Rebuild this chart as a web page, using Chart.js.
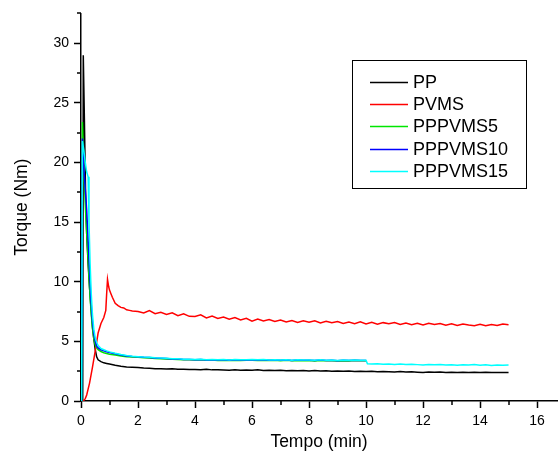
<!DOCTYPE html>
<html>
<head>
<meta charset="utf-8">
<script src="https://cdn.jsdelivr.net/npm/chart.js@4"></script>
<style>
  html, body { margin: 0; padding: 0; background: #fff; }
  #wrap { width: 558px; height: 457px; }
</style>
</head>
<body>
<div id="wrap"><canvas id="c" width="558" height="457"></canvas></div>
<script>
// ---------- DATA ----------
const seriesLabels = ["PP", "PVMS", "PPPVMS5", "PPPVMS10", "PPPVMS15"];

// shared tail time grid (min)
const tailTime = [
  2.0,2.2,2.4,2.6,2.8, 3.0,3.2,3.4,3.6,3.8, 4.0,4.2,4.4,4.6,4.8,
  5.0,5.2,5.4,5.6,5.8, 6.0,6.2,6.4,6.6,6.8, 7.0,7.2,7.4,7.6,7.8,
  8.0,8.2,8.4,8.6,8.8, 9.0,9.2,9.4,9.6,9.8, 10.0,10.2,10.4,10.6,10.8,
  11.0,11.2,11.4,11.6,11.8, 12.0,12.2,12.4,12.6,12.8, 13.0,13.2,13.4,13.6,13.8,
  14.0,14.2,14.4,14.6,14.8, 15.0
];

// PP
const ppHeadTime = [0.06,0.08,0.12,0.16,0.2,0.25,0.3,0.35,0.4,0.45,0.5,0.55,0.6,0.7,0.8,0.9,1.0,1.2,1.4,1.6,1.8];
const ppHeadTorque = [0,29.0,23.5,17.5,14.0,11.5,9.5,7.8,6.3,5.2,4.3,3.7,3.45,3.3,3.2,3.15,3.1,3.0,2.92,2.86,2.83];
const ppTailTorque = [
  2.80,2.76,2.74,2.71,2.70, 2.68,2.70,2.66,2.67,2.64, 2.65,2.62,2.66,2.61,2.63,
  2.60,2.58,2.62,2.57,2.60, 2.58,2.61,2.56,2.58,2.55, 2.57,2.54,2.56,2.53,2.55,
  2.52,2.55,2.51,2.53,2.50, 2.52,2.49,2.51,2.48,2.50, 2.47,2.49,2.45,2.48,2.46,
  2.44,2.47,2.43,2.45,2.42, 2.40,2.44,2.41,2.43,2.40, 2.42,2.39,2.41,2.38,2.41,
  2.39,2.42,2.38,2.40,2.39, 2.40
];

// PVMS
const pvmsHeadTime = [0.08,0.15,0.2,0.3,0.4,0.5,0.6,0.7,0.8,0.87,0.9,0.93,0.97,1.0,1.05,1.1,1.2,1.3,1.4,1.5,1.6,1.7,1.8];
const pvmsHeadTorque = [0,0.2,0.5,1.5,2.8,4.2,5.7,6.5,7.0,7.6,9.0,10.2,9.6,9.3,9.0,8.7,8.2,8.0,7.85,7.8,7.65,7.6,7.55];
const pvmsTailTorque = [
  7.50,7.38,7.58,7.32,7.44, 7.26,7.40,7.16,7.32,7.10, 7.08,7.22,6.96,7.12,6.92,
  7.04,6.86,6.99,6.80,6.94, 6.70,6.88,6.72,6.83,6.66, 6.79,6.62,6.74,6.58,6.72,
  6.60,6.73,6.54,6.68,6.56, 6.66,6.50,6.62,6.48,6.64, 6.46,6.60,6.43,6.57,6.48,
  6.58,6.42,6.54,6.40,6.52, 6.38,6.52,6.41,6.50,6.36, 6.48,6.34,6.46,6.38,6.32,
  6.44,6.31,6.42,6.33,6.46, 6.40
];

// PPPVMS5 (ends at 10 min)
const pp5HeadTime = [0.02,0.05,0.1,0.15,0.2,0.25,0.3,0.35,0.4,0.45,0.5,0.55,0.6,0.7,0.8,0.9,1.0,1.2,1.4,1.6,1.8];
const pp5HeadTorque = [0,23.4,19.5,16.5,14.0,11.8,9.5,7.6,6.1,5.2,4.7,4.45,4.3,4.15,4.05,3.98,3.92,3.85,3.78,3.72,3.69];
const pp5TailTorque = [
  3.66,3.63,3.60,3.57,3.55, 3.53,3.50,3.49,3.46,3.45, 3.43,3.45,3.41,3.43,3.40,
  3.42,3.39,3.42,3.40,3.41, 3.42,3.40,3.42,3.39,3.41, 3.38,3.41,3.37,3.40,3.38,
  3.39,3.36,3.40,3.37,3.38, 3.35,3.38,3.36,3.39,3.37, 3.37
];

// PPPVMS10 (ends at 10 min)
const pp10HeadTime = [0.02,0.05,0.1,0.15,0.2,0.25,0.3,0.35,0.4,0.45,0.5,0.55,0.6,0.7,0.8,0.9,1.0,1.2,1.4,1.6,1.8];
const pp10HeadTorque = [0,22.0,19.5,17.8,16.0,13.5,10.8,8.4,6.7,5.6,5.0,4.6,4.45,4.3,4.2,4.12,4.06,3.96,3.86,3.78,3.73];
const pp10TailTorque = [
  3.70,3.66,3.64,3.60,3.58, 3.56,3.53,3.52,3.49,3.48, 3.46,3.48,3.44,3.46,3.43,
  3.45,3.42,3.46,3.43,3.44, 3.46,3.43,3.45,3.42,3.44, 3.41,3.44,3.40,3.43,3.41,
  3.42,3.39,3.43,3.40,3.41, 3.38,3.41,3.39,3.42,3.40, 3.40
];

// PPPVMS15 (step down just after 10 min)
const pp15HeadTime = [0.02,0.05,0.1,0.15,0.2,0.25,0.28,0.32,0.36,0.4,0.45,0.5,0.55,0.6,0.7,0.8,0.9,1.0,1.2,1.4,1.6,1.8];
const pp15HeadTorque = [0,21.8,21.0,20.0,19.2,18.8,15.0,11.5,9.0,7.3,6.0,5.3,4.9,4.65,4.4,4.3,4.2,4.12,4.0,3.9,3.82,3.76];
const pp15TailTorque = [
  3.72,3.68,3.66,3.62,3.60, 3.58,3.55,3.54,3.51,3.50, 3.48,3.50,3.46,3.48,3.45,
  3.47,3.44,3.48,3.45,3.46, 3.48,3.45,3.47,3.44,3.46, 3.43,3.46,3.42,3.45,3.43,
  3.44,3.41,3.45,3.42,3.43, 3.40,3.43,3.41,3.44,3.42, 3.42,3.10,3.12,3.08,3.10,
  3.07,3.10,3.06,3.08,3.05, 3.02,3.06,3.03,3.05,3.02, 3.04,3.00,3.03,3.01,3.05,
  3.00,3.03,2.98,3.02,3.00, 3.02
];
const pp15StepTime = [10.05];
const pp15StepTorque = [3.12];

const seriesColors = ["#000000", "#ff0000", "#00e600", "#0000ff", "#00ffff"];

// axis ticks
const xMajorTicks = [0,2,4,6,8,10,12,14,16];
const xMinorTicks = [1,3,5,7,9,11,13,15];
const yMajorTicks = [0,5,10,15,20,25,30];
const yMinorTicks = [2.5,7.5,12.5,17.5,22.5,27.5,32.5];

// ---------- BUILD ----------
function pts(ht, hv, tt, tv, extraT, extraV) {
  const out = [];
  ht.forEach((t, i) => out.push({x: t, y: hv[i]}));
  tv.forEach((v, i) => out.push({x: tt[i], y: v}));
  if (extraT) extraT.forEach((t, i) => out.push({x: t, y: extraV[i]}));
  out.sort((a, b) => a.x - b.x);
  return out;
}

const seriesData = [
  pts(ppHeadTime, ppHeadTorque, tailTime, ppTailTorque),
  pts(pvmsHeadTime, pvmsHeadTorque, tailTime, pvmsTailTorque),
  pts(pp5HeadTime, pp5HeadTorque, tailTime, pp5TailTorque),
  pts(pp10HeadTime, pp10HeadTorque, tailTime, pp10TailTorque),
  pts(pp15HeadTime, pp15HeadTorque, tailTime, pp15TailTorque, pp15StepTime, pp15StepTorque)
];
const drawOrder = [4, 3, 2, 1, 0];

const FONT = '"Liberation Sans", Arial, sans-serif';

const minorTicksAndLegend = {
  id: 'minorTicksAndLegend',
  afterDraw(chart) {
    const ctx = chart.ctx;
    const xs = chart.scales.x, ys = chart.scales.y;
    const area = chart.chartArea;
    ctx.save();
    ctx.strokeStyle = '#000';
    ctx.lineWidth = 1.5;
    xMinorTicks.forEach(v => {
      const px = Math.round(xs.getPixelForValue(v));
      ctx.beginPath(); ctx.moveTo(px, area.bottom); ctx.lineTo(px, area.bottom + 4); ctx.stroke();
    });
    yMinorTicks.forEach(v => {
      const py = Math.round(ys.getPixelForValue(v));
      ctx.beginPath(); ctx.moveTo(area.left, py); ctx.lineTo(area.left - 4, py); ctx.stroke();
    });
    // legend
    ctx.lineWidth = 1;
    ctx.strokeRect(352.5, 60.5, 174, 128);
    ctx.font = '18px ' + FONT;
    ctx.textBaseline = 'middle';
    ctx.textAlign = 'left';
    chart.data.datasets.forEach((ds, i) => {
      const y = 82 + i * 22.2;
      ctx.strokeStyle = ds.borderColor;
      ctx.lineWidth = 1.5;
      ctx.beginPath(); ctx.moveTo(370, Math.round(y) + 0.5); ctx.lineTo(408, Math.round(y) + 0.5); ctx.stroke();
      ctx.fillStyle = '#000';
      ctx.fillText(ds.label, 413, y + 1);
    });
    ctx.restore();
  }
};

new Chart(document.getElementById('c'), {
  type: 'scatter',
  data: {
    datasets: seriesLabels.map((lab, i) => ({
      label: lab,
      data: seriesData[i],
      showLine: true,
      borderColor: seriesColors[i],
      backgroundColor: seriesColors[i],
      borderWidth: 1.5,
      pointRadius: 0,
      pointHoverRadius: 0,
      tension: 0,
      order: drawOrder[i]
    }))
  },
  options: {
    responsive: false,
    animation: false,
    devicePixelRatio: 1,
    layout: { padding: { top: 11, right: 1, left: 0, bottom: 0 } },
    plugins: { legend: { display: false }, tooltip: { enabled: false } },
    scales: {
      x: {
        type: 'linear',
        min: 0, max: 16.7,
        afterBuildTicks: s => { s.ticks = xMajorTicks.map(v => ({value: v})); },
        afterFit: s => { s.height = 56; },
        ticks: { color: '#000', font: { family: FONT, size: 14 }, padding: 5, maxRotation: 0, autoSkip: false },
        grid: { drawOnChartArea: false, drawTicks: true, tickLength: 7, tickColor: '#000', tickWidth: 1.5 },
        border: { display: true, color: '#000', width: 1.5 },
        title: { display: true, text: 'Tempo (min)', color: '#000', font: { family: FONT, size: 17.5 }, padding: { top: 0, bottom: 4 } }
      },
      y: {
        type: 'linear',
        min: 0, max: 32.5,
        afterBuildTicks: s => { s.ticks = yMajorTicks.map(v => ({value: v})); },
        afterFit: s => { s.width = 81; },
        ticks: { color: '#000', font: { family: FONT, size: 14 }, padding: 5, autoSkip: false },
        grid: { drawOnChartArea: false, drawTicks: true, tickLength: 7, tickColor: '#000', tickWidth: 1.5 },
        border: { display: true, color: '#000', width: 1.5 },
        title: { display: true, text: 'Torque (Nm)', color: '#000', font: { family: FONT, size: 17.5 }, padding: { top: 12, bottom: 0 } }
      }
    }
  },
  plugins: [minorTicksAndLegend]
});
</script>
</body>
</html>
